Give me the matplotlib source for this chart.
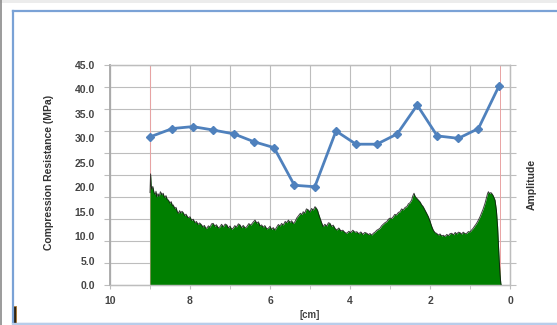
import matplotlib
matplotlib.use("Agg")
import matplotlib.pyplot as plt
from matplotlib.patches import Rectangle
from matplotlib.lines import Line2D
from matplotlib.ticker import MultipleLocator, NullFormatter

plt.rcParams['font.family'] = ['Liberation Sans', 'DejaVu Sans']

# Compression resistance measured along the sample
depth_cm = [9.00, 8.44, 7.93, 7.42, 6.90, 6.40, 5.90, 5.39, 4.88, 4.35,
            3.85, 3.33, 2.82, 2.32, 1.82, 1.29, 0.79, 0.27]
resistance_mpa = [30.3, 32.0, 32.4, 31.7, 30.9, 29.3, 28.1, 20.4, 20.1, 31.5,
                  28.8, 28.8, 30.9, 36.8, 30.5, 30.0, 32.0, 40.8]

# Acoustic amplitude profile (secondary axis, arbitrary units)
amp_cm = [9.000, 8.985, 8.970, 8.950, 8.930, 8.900, 8.870, 8.850, 8.830, 8.800,
          8.770, 8.740, 8.700, 8.670, 8.640, 8.600, 8.570, 8.540, 8.500, 8.470,
          8.440, 8.420, 8.380, 8.350, 8.320, 8.290, 8.260, 8.230, 8.200, 8.170,
          8.130, 8.100, 8.050, 8.000, 7.960, 7.920, 7.875, 7.840, 7.800, 7.760,
          7.710, 7.680, 7.640, 7.610, 7.580, 7.540, 7.500, 7.460, 7.420, 7.380,
          7.340, 7.290, 7.250, 7.210, 7.170, 7.120, 7.080, 7.040, 7.000, 6.960,
          6.920, 6.880, 6.840, 6.790, 6.750, 6.710, 6.670, 6.620, 6.580, 6.530,
          6.480, 6.420, 6.375, 6.330, 6.290, 6.250, 6.210, 6.170, 6.130, 6.080,
          6.040, 6.000, 5.960, 5.920, 5.875, 5.830, 5.790, 5.750, 5.710, 5.670,
          5.620, 5.580, 5.540, 5.500, 5.460, 5.420, 5.375, 5.330, 5.290, 5.240,
          5.200, 5.170, 5.130, 5.090, 5.040, 5.000, 4.960, 4.920, 4.875, 4.840,
          4.810, 4.790, 4.750, 4.710, 4.670, 4.630, 4.580, 4.540, 4.500, 4.460,
          4.420, 4.370, 4.330, 4.280, 4.230, 4.180, 4.130, 4.080, 4.030, 3.980,
          3.930, 3.880, 3.830, 3.780, 3.730, 3.680, 3.630, 3.580, 3.540, 3.500,
          3.460, 3.410, 3.370, 3.330, 3.290, 3.250, 3.210, 3.170, 3.120, 3.080,
          3.040, 3.000, 2.960, 2.920, 2.880, 2.840, 2.790, 2.750, 2.710, 2.670,
          2.620, 2.580, 2.540, 2.500, 2.460, 2.430, 2.400, 2.370, 2.330, 2.290,
          2.250, 2.210, 2.170, 2.130, 2.090, 2.040, 2.000, 1.960, 1.920, 1.880,
          1.830, 1.790, 1.750, 1.710, 1.665, 1.625, 1.580, 1.540, 1.500, 1.460,
          1.410, 1.370, 1.330, 1.290, 1.250, 1.210, 1.170, 1.120, 1.080, 1.040,
          1.000, 0.960, 0.920, 0.880, 0.840, 0.790, 0.750, 0.710, 0.670, 0.625,
          0.590, 0.560, 0.540, 0.510, 0.480, 0.460, 0.420, 0.375, 0.340, 0.310,
          0.290, 0.270, 0.250, 0.230, 0.220]
amp_val = [42.0, 50.5, 45.0, 43.5, 44.8, 42.0, 41.2, 42.6, 40.1, 41.5,
           40.3, 42.4, 41.0, 41.7, 39.8, 40.6, 38.9, 38.6, 37.2, 37.9,
           36.0, 36.4, 34.8, 35.3, 33.4, 32.6, 33.8, 32.7, 33.5, 32.9,
           31.5, 32.2, 30.6, 31.0, 29.4, 29.9, 28.3, 28.9, 27.5, 28.2,
           27.3, 26.4, 27.1, 25.9, 25.8, 26.9, 26.3, 27.8, 28.0, 26.7,
           27.4, 25.9, 26.5, 27.6, 26.4, 27.7, 27.3, 25.9, 26.8, 25.4,
           25.8, 27.0, 26.3, 27.8, 27.3, 26.0, 27.1, 25.9, 26.5, 27.9,
           27.2, 28.6, 29.5, 28.1, 28.7, 26.9, 27.3, 26.2, 27.0, 25.5,
           25.8, 26.7, 25.2, 26.1, 25.0, 26.4, 27.5, 26.8, 28.0, 27.2,
           28.9, 28.3, 29.5, 28.4, 29.2, 27.9, 28.8, 30.5, 31.4, 32.6,
           32.0, 33.3, 32.7, 34.6, 34.1, 33.2, 34.8, 34.0, 35.6, 34.9,
           33.9, 32.6, 30.4, 28.3, 26.5, 27.6, 26.8, 28.3, 28.0, 26.6,
           27.2, 25.6, 25.0, 25.9, 24.6, 24.9, 23.9, 23.5, 24.4, 23.8,
           24.9, 24.0, 24.2, 23.3, 24.1, 23.0, 23.9, 23.5, 22.9, 23.4,
           22.7, 23.6, 24.1, 24.9, 25.3, 25.8, 26.9, 27.6, 28.4, 28.8,
           29.9, 30.4, 30.2, 31.0, 32.1, 31.8, 33.0, 33.3, 34.6, 34.1,
           35.3, 35.6, 36.9, 37.4, 38.6, 40.5, 41.7, 40.2, 39.4, 38.6,
           37.8, 36.5, 35.6, 34.2, 32.9, 31.0, 29.0, 26.8, 25.0, 23.9,
           23.4, 22.7, 23.2, 22.3, 22.6, 22.0, 23.0, 22.4, 23.3, 23.5,
           22.8, 23.9, 23.2, 24.0, 23.8, 23.1, 24.0, 23.3, 23.5, 24.3,
           24.1, 25.0, 25.8, 26.9, 27.9, 29.5, 31.0, 32.8, 34.6, 37.1,
           39.5, 41.6, 42.4, 41.5, 42.0, 41.7, 40.6, 38.6, 34.0, 26.5,
           18.5, 11.4, 5.0, 0.8, 0.0]

# Range of the acoustic scan
scan_limits = [9.0, 0.25]

x_ticks = [10, 8, 6, 4, 2, 0]
y_ticks = [0, 5, 10, 15, 20, 25, 30, 35, 40, 45]

W, H = 557, 325
fig = plt.figure(figsize=(W / 100, H / 100), dpi=100)
fig.patch.set_facecolor('white')

# Frame around the chart (pixel coordinates)
fig.patches.append(Rectangle((0, H - 3), W, 3, transform=None,
                             facecolor='#ececec', edgecolor='none'))
fig.lines.append(Line2D([0.5, 0.5], [0, H], transform=None,
                        color='#8a8a8a', lw=1.2))
fig.lines.append(Line2D([13, W + 5, W + 5, 13, 13],
                        [H - 11, H - 11, 1.5, 1.5, H - 11], transform=None,
                        color='#7aa2d6', lw=1.6))
fig.lines.append(Line2D([13, W + 5], [1.5, 1.5], transform=None,
                        color='#b8cdea', lw=1.6))
fig.patches.append(Rectangle((13, 0), 3, 19, transform=None,
                             facecolor='#2e2412', edgecolor='#b07a30', lw=0.6))

left, bottom = 110 / W, (H - 285) / H
width, height = 400 / W, 220 / H
ax = fig.add_axes([left, bottom, width, height])
ax2 = ax.twinx()

# Secondary axis underneath: grid and amplitude area
ax.set_zorder(ax2.get_zorder() + 1)
ax.patch.set_visible(False)
ax2.patch.set_visible(True)
ax2.patch.set_facecolor('white')

grid_color = '#bdbdbd'
ax.set_xlim(10, 0)
ax.xaxis.set_major_locator(MultipleLocator(2))
ax.xaxis.set_minor_locator(MultipleLocator(1))

ax2.xaxis.set_visible(True)
ax2.tick_params(axis='x', which='both', bottom=False, top=False,
                labelbottom=False, labeltop=False)
ax2.set_ylim(0, 100)
ax2.yaxis.set_major_locator(MultipleLocator(10))
ax2.yaxis.set_major_formatter(NullFormatter())
ax2.yaxis.set_ticks_position('both')
ax2.tick_params(axis='y', which='major', direction='out', length=4,
                color=grid_color, width=0.8, labelleft=False, labelright=False)
ax2.set_axisbelow(True)
ax2.grid(True, axis='y', color=grid_color, lw=0.8)
ax2.grid(True, axis='x', which='both', color=grid_color, lw=0.8)

ax2.fill_between(amp_cm, 0, amp_val, color='#007f00', lw=0, zorder=2)
ax2.plot(amp_cm, amp_val, color='#111111', lw=0.7, alpha=0.8, zorder=3)
for xv in scan_limits:
    ax2.axvline(xv, color='#e9a3a3', lw=0.7, zorder=1.5)

ax2.set_ylabel('Amplitude', fontsize=7.5, fontweight='bold', color='#333333')
ax2.yaxis.set_label_coords(1.043, 0.455)

# Primary axis: compression resistance
ax.plot(depth_cm, resistance_mpa, color='#4f81bd', lw=2.0, marker='D',
        markersize=3.8, markerfacecolor='#4f81bd', markeredgecolor='#4f81bd',
        zorder=5, clip_on=False)

ax.set_ylim(0, 45)
ax.set_xticks(x_ticks)
ax.set_yticks(y_ticks)
ax.set_yticklabels([f'{v:.1f}' for v in y_ticks])
ax.tick_params(axis='y', length=0, pad=11, labelsize=7.5, labelcolor='#444444')
ax.tick_params(axis='x', which='both', direction='out', length=3,
               color=grid_color, labelsize=7.5, labelcolor='#444444', pad=5)
for lab in ax.get_xticklabels() + ax.get_yticklabels():
    lab.set_fontweight('bold')

ax.set_xlabel('[cm]', fontsize=7, fontweight='bold', color='#444444', labelpad=3)
ax.set_ylabel('Compression Resistance (MPa)', fontsize=7.5, fontweight='bold',
              color='#333333')
ax.yaxis.set_label_coords(-0.14, 0.51)

for a in (ax, ax2):
    for s in a.spines.values():
        s.set_color(grid_color)
        s.set_linewidth(0.9)
ax.spines['left'].set_linewidth(1.3)
ax.spines['left'].set_color('#a8a8a8')

fig.savefig('out.png', dpi=100)
